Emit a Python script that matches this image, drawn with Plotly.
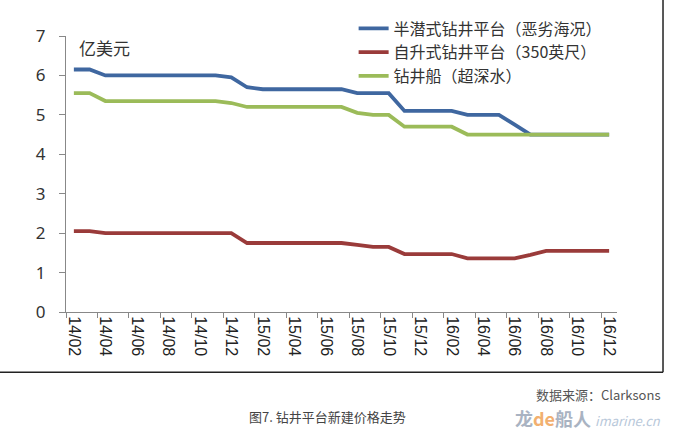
import plotly.graph_objects as go

months = ["14/02", "14/03", "14/04", "14/05", "14/06", "14/07", "14/08", "14/09", "14/10", "14/11", "14/12",
          "15/01", "15/02", "15/03", "15/04", "15/05", "15/06", "15/07", "15/08", "15/09", "15/10", "15/11", "15/12",
          "16/01", "16/02", "16/03", "16/04", "16/05", "16/06", "16/07", "16/08", "16/09", "16/10", "16/11", "16/12"]

semi_sub = [6.15, 6.15, 6.0, 6.0, 6.0, 6.0, 6.0, 6.0, 6.0, 6.0, 5.95,
            5.7, 5.65, 5.65, 5.65, 5.65, 5.65, 5.65, 5.55, 5.55, 5.55, 5.1, 5.1,
            5.1, 5.1, 5.0, 5.0, 5.0, 4.75, 4.5, 4.5, 4.5, 4.5, 4.5, 4.5]
jackup = [2.05, 2.05, 2.0, 2.0, 2.0, 2.0, 2.0, 2.0, 2.0, 2.0, 2.0,
          1.75, 1.75, 1.75, 1.75, 1.75, 1.75, 1.75, 1.7, 1.65, 1.65, 1.47, 1.47,
          1.47, 1.47, 1.36, 1.36, 1.36, 1.36, 1.45, 1.55, 1.55, 1.55, 1.55, 1.55]
drillship = [5.55, 5.55, 5.35, 5.35, 5.35, 5.35, 5.35, 5.35, 5.35, 5.35, 5.3,
             5.2, 5.2, 5.2, 5.2, 5.2, 5.2, 5.2, 5.05, 5.0, 5.0, 4.7, 4.7,
             4.7, 4.7, 4.5, 4.5, 4.5, 4.5, 4.5, 4.5, 4.5, 4.5, 4.5, 4.5]

series_names = ["半潜式钻井平台（恶劣海况）", "自升式钻井平台（350英尺）", "钻井船（超深水）"]
colors = ["#3F67A0", "#9A3B3A", "#9BBB59"]

fig = go.Figure()
for name, vals, col in zip(series_names, [semi_sub, jackup, drillship], colors):
    fig.add_trace(go.Scatter(x=months, y=vals, mode="lines", name=name,
                             line=dict(color=col, width=3.8)))

fig.update_layout(
    width=674, height=433,
    margin=dict(l=66, r=57, t=35, b=121),
    paper_bgcolor="white", plot_bgcolor="white",
    font=dict(family="Noto Sans CJK SC, Noto Sans, sans-serif", color="#222"),
    showlegend=True,
    legend=dict(x=0.522, y=1.085, xanchor="left", yanchor="top",
                bgcolor="rgba(0,0,0,0)", font=dict(size=16, color="#333"),
                tracegroupgap=0),
)
fig.update_xaxes(type="category", range=[-0.5, 34.5], tickmode="linear", tick0=0, dtick=2,
                 tickson="boundaries", ticks="outside", ticklen=5, tickcolor="#888",
                 showline=True, linecolor="#888", linewidth=1, showgrid=False,
                 tickangle=90, tickfont=dict(family="Liberation Sans, Arial", size=16, color="#222"))
fig.update_yaxes(range=[0, 7], tickmode="linear", tick0=0, dtick=1,
                 ticks="outside", ticklen=6, tickcolor="#888",
                 showline=True, linecolor="#888", linewidth=1, showgrid=False, zeroline=False,
                 ticklabelstandoff=10,
                 tickfont=dict(family="Noto Sans, sans-serif", size=17, color="#333"))

fig.add_annotation(text="亿美元", xref="paper", yref="paper", x=0.02, y=0.96,
                   xanchor="left", yanchor="middle", showarrow=False,
                   font=dict(size=17, color="#333"))

# frame lines of the original picture
fig.add_shape(type="line", xref="paper", yref="paper", x0=-0.13, x1=1.0835, y0=-0.218, y1=-0.218,
              line=dict(color="#222", width=1.5))
fig.add_shape(type="line", xref="paper", yref="paper", x0=1.0835, x1=1.0835, y0=-0.218, y1=1.14,
              line=dict(color="#222", width=1.5))

fig.add_annotation(text="数据来源：Clarksons", xref="paper", yref="paper", x=1.083, y=-0.30,
                   xanchor="right", yanchor="middle", showarrow=False,
                   font=dict(size=13, color="#555"))
fig.add_annotation(text="图7. 钻井平台新建价格走势", xref="paper", yref="paper", x=0.475, y=-0.377,
                   xanchor="center", yanchor="middle", showarrow=False,
                   font=dict(size=13, color="#444"))
fig.add_annotation(text="<b><span style='color:#A9B3C2'>龙</span><span style='color:#F2B070'>de</span>"
                        "<span style='color:#A9B3C2'>船人</span></b> "
                        "<i><span style='color:#B8C8DA;font-size:13px'>imarine.cn</span></i>",
                   xref="paper", yref="paper", x=1.083, y=-0.383,
                   xanchor="right", yanchor="middle", showarrow=False,
                   font=dict(size=18, color="#A9B3C2"))

fig.write_html("out.html", config={"displayModeBar": False},
               post_script="document.body.style.margin='0';document.body.style.overflow='hidden';")
